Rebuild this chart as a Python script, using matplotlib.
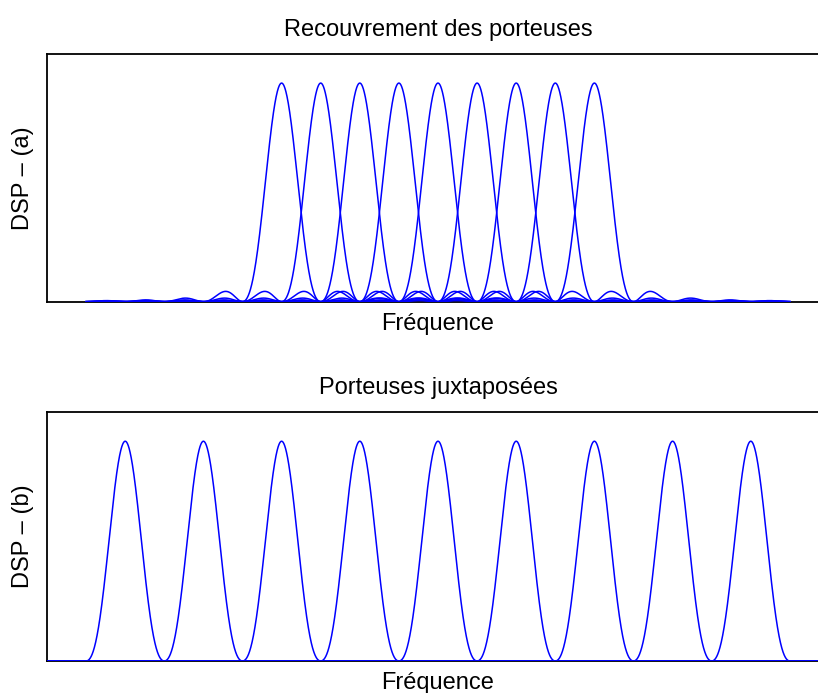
import numpy as np
import matplotlib
matplotlib.use("Agg")
import matplotlib.pyplot as plt

plt.rcParams['font.family'] = ['Liberation Sans', 'DejaVu Sans']

# Data
overlap_centers = [-4, -3, -2, -1, 0, 1, 2, 3, 4]      # carriers, overlapping (spacing 1/T)
juxta_centers = [-8, -6, -4, -2, 0, 2, 4, 6, 8]         # carriers, juxtaposed (spacing 2/T)
f_span_overlap = (-9.0, 9.0)
f_span_juxta = (-10.0, 10.0)
xlim = (-10.0, 10.0)
ylim = (0.0, 1.133)

titles = ["Recouvrement des porteuses", "Porteuses juxtaposées"]
ylabels = ["DSP \u2013 (a)", "DSP \u2013 (b)"]
xlabel = "Fréquence"

fig = plt.figure(figsize=(8.18, 6.93), dpi=100)
W, H = 818, 693
ax1 = fig.add_axes([47/W, 1-301.7/H, (829-47)/W, (301.7-54)/H])
ax2 = fig.add_axes([47/W, 1-661/H, (829-47)/W, (661-412)/H])

fs = 17
lw = 1.1
f1 = np.linspace(*f_span_overlap, 4001)
for c in overlap_centers:
    ax1.plot(f1, np.sinc(f1 - c)**2, color=(0, 0, 1), lw=lw, zorder=3)

f2 = np.linspace(*f_span_juxta, 8001)
for c in juxta_centers:
    y = np.where(np.abs(f2 - c) < 1, np.sinc(f2 - c)**2, 0.0)
    ax2.plot(f2, y, color=(0, 0, 1), lw=lw, zorder=3)

for ax, t, yl in zip([ax1, ax2], titles, ylabels):
    ax.set_xlim(*xlim)
    ax.set_ylim(*ylim)
    ax.set_xticks([])
    ax.set_yticks([])
    for s in ax.spines.values():
        s.set_linewidth(1.3)
        s.set_color('black')
    ax.set_title(t, fontsize=fs, pad=13)
    ax.set_xlabel(xlabel, fontsize=fs, labelpad=8)
    ax.set_ylabel(yl, fontsize=fs, labelpad=9)

fig.savefig("out.png", dpi=100)
